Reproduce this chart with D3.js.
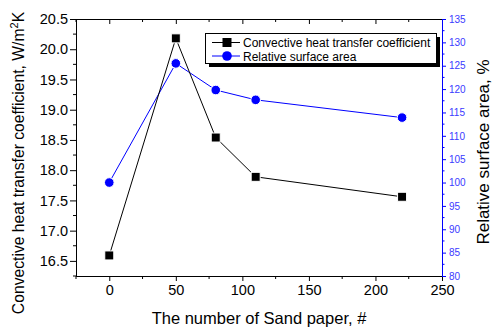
<!DOCTYPE html>
<html><head><meta charset="utf-8">
<script src="https://cdn.jsdelivr.net/npm/d3@7"></script>
<style>body{margin:0;background:#fff}svg{display:block}text{font-family:"Liberation Sans",Arial,sans-serif}</style>
</head><body><svg id="c" width="493" height="329"></svg>
<script>
const sandPaper = [0, 50, 80, 110, 220];
const heatCoef = [16.59, 20.18, 18.54, 17.89, 17.56];
const relArea = [100.0, 125.5, 119.8, 117.7, 113.9];
const xTicks = [0, 50, 100, 150, 200, 250];
const yLeftTicks = [16.5, 17.0, 17.5, 18.0, 18.5, 19.0, 19.5, 20.0, 20.5];
const yRightTicks = [80, 85, 90, 95, 100, 105, 110, 115, 120, 125, 130, 135];
const legendLabels = ["Convective heat transfer coefficient", "Relative surface area"];

const svg = d3.select("#c");
const L = 76, R = 442, T = 19, B = 276;
const x = d3.scaleLinear().domain([-25, 250]).range([L, R]);
const yL = d3.scaleLinear().domain([16.25, 20.5]).range([B, T]);
const yR = d3.scaleLinear().domain([80, 135]).range([B, T]);
const blue = "#0000ff", tickBlue = "#3a3aff";

// minor ticks
const xMinor = d3.range(-25, 251, 25).filter(v => v % 50 !== 0);
const yLMinor = d3.range(16.25, 20.51, 0.5);
const yRMinor = d3.range(82.5, 135, 5);

// bottom axis
const gx = svg.append("g").attr("transform", `translate(0,${B})`)
  .call(d3.axisBottom(x).tickValues(xTicks).tickFormat(d3.format("d")).tickSize(5).tickPadding(4));
gx.select(".domain").attr("d", `M${L},0.5H${R}`);
gx.selectAll("text").attr("font-size", 14.5).attr("fill", "#000");
gx.selectAll(".tick line").attr("stroke", "#000");
svg.append("g").attr("transform", `translate(0,${B})`).selectAll("line").data(xMinor).join("line")
  .attr("x1", d => x(d)).attr("x2", d => x(d)).attr("y1", 0).attr("y2", 3).attr("stroke", "#000");

// top axis (ticks inside, no labels)
const gt = svg.append("g").attr("transform", `translate(0,${T})`)
  .call(d3.axisBottom(x).tickValues(xTicks).tickFormat("").tickSizeInner(5).tickSizeOuter(0));
gt.select(".domain").attr("d", `M${L},0.5H${R}`);
svg.append("g").attr("transform", `translate(0,${T})`).selectAll("line").data(xMinor).join("line")
  .attr("x1", d => x(d)).attr("x2", d => x(d)).attr("y1", 0).attr("y2", 3).attr("stroke", "#000");

// left axis
const gl = svg.append("g").attr("transform", `translate(${L},0)`)
  .call(d3.axisLeft(yL).tickValues(yLeftTicks).tickFormat(d3.format(".1f")).tickSize(6).tickPadding(2));
gl.select(".domain").attr("d", `M0.5,${T}V${B}`);
gl.selectAll("text").attr("font-size", 14.5).attr("fill", "#000");
svg.append("g").attr("transform", `translate(${L},0)`).selectAll("line").data(yLMinor).join("line")
  .attr("y1", d => yL(d)).attr("y2", d => yL(d)).attr("x1", 0).attr("x2", -3).attr("stroke", "#000");

// right axis
const gr = svg.append("g").attr("transform", `translate(${R},0)`)
  .call(d3.axisRight(yR).tickValues(yRightTicks).tickSize(4).tickPadding(3));
gr.select(".domain").attr("d", `M0.5,${T}V${B}`).attr("stroke", blue);
gr.selectAll(".tick line").attr("stroke", blue);
gr.selectAll("text").attr("font-size", 10).attr("fill", tickBlue);
svg.append("g").attr("transform", `translate(${R},0)`).selectAll("line").data(yRMinor).join("line")
  .attr("y1", d => yR(d)).attr("y2", d => yR(d)).attr("x1", 0).attr("x2", 2.5).attr("stroke", blue);

// titles
svg.append("text").attr("x", 259).attr("y", 324).attr("text-anchor", "middle").attr("font-size", 16.5)
  .text("The number of Sand paper, #");
const lt = svg.append("text").attr("transform", `translate(24,163) rotate(-90)`)
  .attr("text-anchor", "middle").attr("font-size", 15.7);
lt.append("tspan").text("Convective heat transfer coefficient, W/m");
lt.append("tspan").attr("dy", -6).attr("font-size", 11).text("2");
lt.append("tspan").attr("dy", 6).text("K");
svg.append("text").attr("transform", `translate(489,152) rotate(-90)`).attr("text-anchor", "middle")
  .attr("font-size", 17).text("Relative surface area, %");

// lines
const pts1 = sandPaper.map((d, i) => [x(d), yL(heatCoef[i])]);
const pts2 = sandPaper.map((d, i) => [x(d), yR(relArea[i])]);
svg.append("path").attr("d", d3.line()(pts2)).attr("fill", "none").attr("stroke", blue).attr("stroke-width", 1);
svg.append("path").attr("d", d3.line()(pts1)).attr("fill", "none").attr("stroke", "#000").attr("stroke-width", 1);
svg.append("g").selectAll("circle").data(pts2).join("circle")
  .attr("cx", d => d[0]).attr("cy", d => d[1]).attr("r", 4.8).attr("fill", blue).attr("stroke", "#fff").attr("stroke-width", 1);
svg.append("g").selectAll("rect").data(pts1).join("rect")
  .attr("x", d => d[0] - 4.5).attr("y", d => d[1] - 4.5).attr("width", 9).attr("height", 9)
  .attr("fill", "#000").attr("stroke", "#fff").attr("stroke-width", 1);

// legend
const lg = svg.append("g");
lg.append("rect").attr("x", 209).attr("y", 37).attr("width", 231).attr("height", 30).attr("fill", "#000");
lg.append("rect").attr("x", 205.5).attr("y", 33.5).attr("width", 231).attr("height", 30).attr("fill", "#fff").attr("stroke", "#000");
const rows = [{y: 42.5, c: "#000", m: "rect"}, {y: 56, c: blue, m: "circle"}];
rows.forEach((r, i) => {
  lg.append("line").attr("x1", 212).attr("x2", 240).attr("y1", r.y).attr("y2", r.y).attr("stroke", r.c);
  if (r.m === "rect") lg.append("rect").attr("x", 227 - 4.5).attr("y", r.y - 4.5).attr("width", 9).attr("height", 9).attr("fill", "#000");
  else lg.append("circle").attr("cx", 227).attr("cy", r.y).attr("r", 4.8).attr("fill", blue);
  lg.append("text").attr("x", 243).attr("y", r.y + 4.5).attr("font-size", 12).text(legendLabels[i]);
});
</script></body></html>
